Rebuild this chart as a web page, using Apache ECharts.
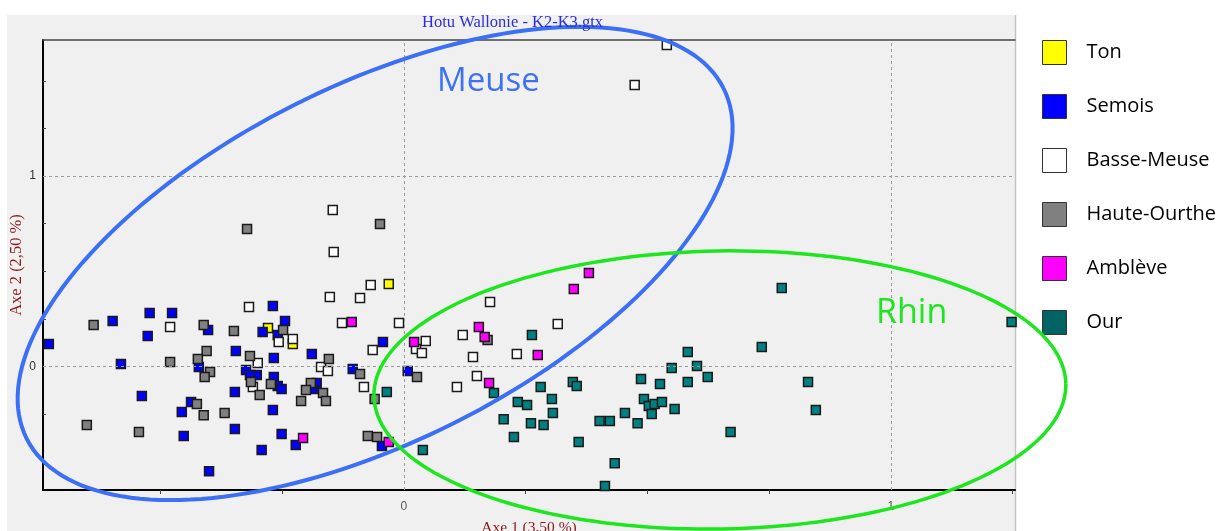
<!DOCTYPE html>
<html>
<head>
<meta charset="utf-8">
<script src="https://cdn.jsdelivr.net/npm/echarts@6/dist/echarts.min.js"></script>
<style>
html,body{margin:0;padding:0;background:#fff;}
#chart{width:1225px;height:531px;}
</style>
</head>
<body>
<div id="chart"></div>
<script>
// ---- data ----
const chartTitle = 'Hotu Wallonie - K2-K3.gtx';
const xAxisName = 'Axe 1 (3,50 %)';
const yAxisName = 'Axe 2 (2,50 %)';
const categories = ['Ton', 'Semois', 'Basse-Meuse', 'Haute-Ourthe', 'Amblève', 'Our'];
const xTickLabels = [0, 1];
const yTickLabels = [0, 1];

const ton = [[-0.279,0.202],[-0.031,0.433],[-0.228,0.118]];
const semois = [
  [-0.729,0.118],[-0.598,0.239],[-0.522,0.281],[-0.526,0.160],[-0.581,0.013],[-0.538,-0.155],
  [-0.476,0.281],[-0.402,0.192],[-0.269,0.318],[-0.290,0.181],[-0.244,0.239],[-0.259,0.165],
  [-0.345,0.081],[-0.421,-0.003],[-0.324,-0.018],[-0.302,-0.045],[-0.316,-0.045],[-0.267,0.045],
  [-0.267,-0.055],[-0.259,-0.102],[-0.251,-0.118],[-0.347,-0.134],[-0.437,-0.186],[-0.456,-0.239],
  [-0.269,-0.228],[-0.452,-0.365],[-0.347,-0.328],[-0.251,-0.354],[-0.292,-0.438],[-0.400,-0.549],
  [-0.222,-0.412],[-0.189,0.066],[-0.179,-0.087],[-0.187,-0.118],[-0.105,-0.013],[-0.043,0.129],
  [0.008,-0.024],[-0.045,-0.417]
];
const basseMeuse = [
  [-0.480,0.207],[-0.318,0.312],[-0.257,0.129],[-0.300,0.018],[-0.310,-0.108],[-0.228,0.144],
  [-0.146,0.822],[-0.144,0.601],[-0.068,0.428],[-0.152,0.365],[-0.090,0.360],[-0.127,0.228],
  [-0.010,0.228],[-0.064,0.087],[-0.170,-0.003],[-0.156,-0.024],[-0.082,-0.108],[0.177,0.339],
  [0.121,0.165],[0.045,0.134],[0.025,0.092],[0.037,0.071],[0.142,0.050],[0.232,0.066],
  [0.316,0.223],[0.150,-0.050],[0.109,-0.108],[0.540,1.688],[0.474,1.478]
];
const hauteOurthe = [
  [-0.637,0.218],[-0.651,-0.307],[-0.544,-0.344],[-0.411,0.218],[-0.349,0.186],[-0.248,0.192],
  [-0.405,0.081],[-0.480,0.024],[-0.423,0.039],[-0.398,-0.029],[-0.409,-0.055],[-0.316,0.055],
  [-0.314,-0.081],[-0.296,-0.150],[-0.273,-0.092],[-0.425,-0.197],[-0.411,-0.255],[-0.368,-0.244],
  [-0.322,0.722],[-0.049,0.748],[-0.154,0.039],[-0.090,-0.039],[0.027,-0.055],[-0.060,-0.171],
  [-0.191,-0.087],[-0.201,-0.123],[-0.166,-0.139],[-0.211,-0.181],[-0.160,-0.181],[-0.074,-0.365],
  [-0.055,-0.370],[0.172,0.139]
];
const ambleve = [
  [-0.107,0.234],[-0.207,-0.375],[-0.031,-0.396],[0.021,0.129],[0.154,0.207],[0.166,0.155],
  [0.175,-0.087],[0.275,0.060],[0.349,0.407],[0.380,0.491]
];
const our = [
  [-0.035,-0.134],[0.039,-0.438],[0.185,-0.139],[0.263,0.165],[0.281,-0.108],[0.304,-0.171],
  [0.234,-0.186],[0.253,-0.202],[0.306,-0.244],[0.205,-0.276],[0.261,-0.297],[0.287,-0.307],
  [0.226,-0.370],[0.347,-0.081],[0.355,-0.102],[0.359,-0.396],[0.402,-0.286],[0.423,-0.286],
  [0.433,-0.507],[0.413,-0.627],[0.454,-0.244],[0.480,-0.297],[0.487,-0.066],[0.493,-0.171],
  [0.503,-0.207],[0.515,-0.197],[0.530,-0.186],[0.509,-0.249],[0.526,-0.092],[0.556,-0.223],
  [0.550,-0.008],[0.583,0.076],[0.602,0.003],[0.583,-0.081],[0.624,-0.055],[0.671,-0.344],
  [0.735,0.102],[0.776,0.412],[0.830,-0.081],[0.846,-0.228],[1.248,0.234]
];
const seriesData = [ton, semois, basseMeuse, hauteOurthe, ambleve, our];

// ellipse annotation centres (data units)
const meuseCenter = [-0.059, 0.541];
const rhinCenter = [0.649, -0.123];

// ---- styles ----
const colors = ['#ffff00', '#0000ff', '#ffffff', '#808080', '#ff00ff', '#008080'];
const legendColors = ['#ffff00', '#0000ff', '#ffffff', '#808080', '#ff00ff', '#006464'];
const ellipseStyles = [
  {center: meuseCenter, rx: 390, ry: 178, rot: 26.7, color: '#3b6ff5', width: 4},
  {center: rhinCenter, rx: 346, ry: 139, rot: 1, color: '#1ee61e', width: 3.5}
];

const X_MIN = -0.741, X_MAX = 1.255, Y_MIN = -0.648, Y_MAX = 1.714;

function ellipseRenderer(es) {
  return function (params, api) {
    const c = api.coord([api.value(0), api.value(1)]);
    const th = es.rot * Math.PI / 180;
    const pts = [];
    const N = 180;
    for (let i = 0; i <= N; i++) {
      const t = 2 * Math.PI * i / N;
      const ex = es.rx * Math.cos(t), ey = es.ry * Math.sin(t);
      pts.push([c[0] + ex * Math.cos(th) + ey * Math.sin(th),
                c[1] - ex * Math.sin(th) + ey * Math.cos(th)]);
    }
    return {type: 'polyline', shape: {points: pts},
            style: {fill: null, stroke: es.color, lineWidth: es.width}};
  };
}

const series = categories.map((name, i) => ({
  type: 'scatter', name: name, data: seriesData[i],
  symbol: 'rect', symbolSize: 9, clip: true,
  itemStyle: {color: colors[i], borderColor: '#1a1a1a', borderWidth: 1.5, opacity: 1},
  emphasis: {disabled: true}, z: 3
}));
series[0].markLine = {
  silent: true, symbol: 'none', label: {show: false}, animation: false,
  lineStyle: {type: [3, 3], color: '#9a9a9a', width: 1},
  emphasis: {disabled: true},
  data: [{xAxis: 0}, {xAxis: 1}, {yAxis: 0}, {yAxis: 1}]
};
ellipseStyles.forEach(es => {
  series.push({
    type: 'custom', data: [es.center], renderItem: ellipseRenderer(es),
    clip: false, silent: true, z: 5
  });
});

const option = {
  animation: false,
  backgroundColor: '#ffffff',
  title: {
    text: chartTitle, left: 422, top: 14, padding: 0,
    textStyle: {fontFamily: 'Liberation Serif', fontSize: 16.5, fontWeight: 'normal', color: '#2b2be0'}
  },
  legend: {
    orient: 'vertical', left: 1042, top: 40, padding: 0,
    itemWidth: 24, itemHeight: 24, itemGap: 29, icon: 'rect',
    selectedMode: false,
    itemStyle: {borderColor: '#333', borderWidth: 1},
    textStyle: {fontFamily: 'Open Sans', fontSize: 20, lineHeight: 24, color: '#000', padding: [0, 0, 0, 15]},
    data: categories.map((n, i) => ({name: n, itemStyle: {color: legendColors[i]}}))
  },
  graphic: [
    {type: 'rect', z: -100, shape: {x: 7, y: 15, width: 1009, height: 516},
     style: {fill: '#f0f0f0'}, silent: true},
    {type: 'line', z: -90, shape: {x1: 1015.5, y1: 15, x2: 1015.5, y2: 531},
     style: {stroke: '#c4c4c4', lineWidth: 1.5}, silent: true},
    {type: 'text', z: 100, left: 437, top: 65,
     style: {text: 'Meuse', font: '33px "Open Sans"', fill: '#3f72f0'}},
    {type: 'text', z: 100, left: 876, top: 296,
     style: {text: 'Rhin', font: '34px "Open Sans"', fill: '#1ee61e'}}
  ],
  grid: {left: 43, top: 40, right: 210, bottom: 41, containLabel: false, outerBoundsMode: 'none'},
  xAxis: [{
    type: 'value', min: X_MIN, max: X_MAX, position: 'bottom',
    name: xAxisName, nameLocation: 'middle', nameGap: 30, nameMoveOverlap: false,
    nameTextStyle: {fontFamily: 'Liberation Serif', fontSize: 15.5, color: '#8b1a1a'},
    axisLine: {show: true, onZero: false, lineStyle: {color: '#000', width: 2}},
    axisTick: {show: true, inside: false, length: 4, customValues: [-0.5, -0.25, 0.25, 0.5, 0.75, 1.25],
               lineStyle: {color: '#444'}},
    axisLabel: {customValues: xTickLabels, margin: 11, fontFamily: 'Liberation Sans', fontSize: 12, color: '#555'},
    splitLine: {show: false}
  }, {
    type: 'value', min: X_MIN, max: X_MAX, position: 'top',
    axisLine: {show: true, onZero: false, lineStyle: {color: '#444', width: 1.5}},
    axisTick: {show: false}, axisLabel: {show: false}, splitLine: {show: false}
  }],
  yAxis: [{
    type: 'value', min: Y_MIN, max: Y_MAX, position: 'left',
    name: yAxisName, nameLocation: 'middle', nameGap: 18, nameMoveOverlap: false,
    nameTextStyle: {fontFamily: 'Liberation Serif', fontSize: 16.5, color: '#8b1a1a'},
    axisLine: {show: true, onZero: false, lineStyle: {color: '#000', width: 2}},
    axisTick: {show: true, inside: true, length: 3, customValues: [-0.5, -0.25, 0.25, 0.5, 0.75, 1.25, 1.5],
               lineStyle: {color: '#444'}},
    axisLabel: {customValues: yTickLabels, margin: 7, fontFamily: 'Liberation Sans', fontSize: 12, color: '#333'},
    splitLine: {show: false}
  }],
  series: series
};

const chart = echarts.init(document.getElementById('chart'), null, {renderer: 'canvas'});
chart.setOption(option);
</script>
</body>
</html>
